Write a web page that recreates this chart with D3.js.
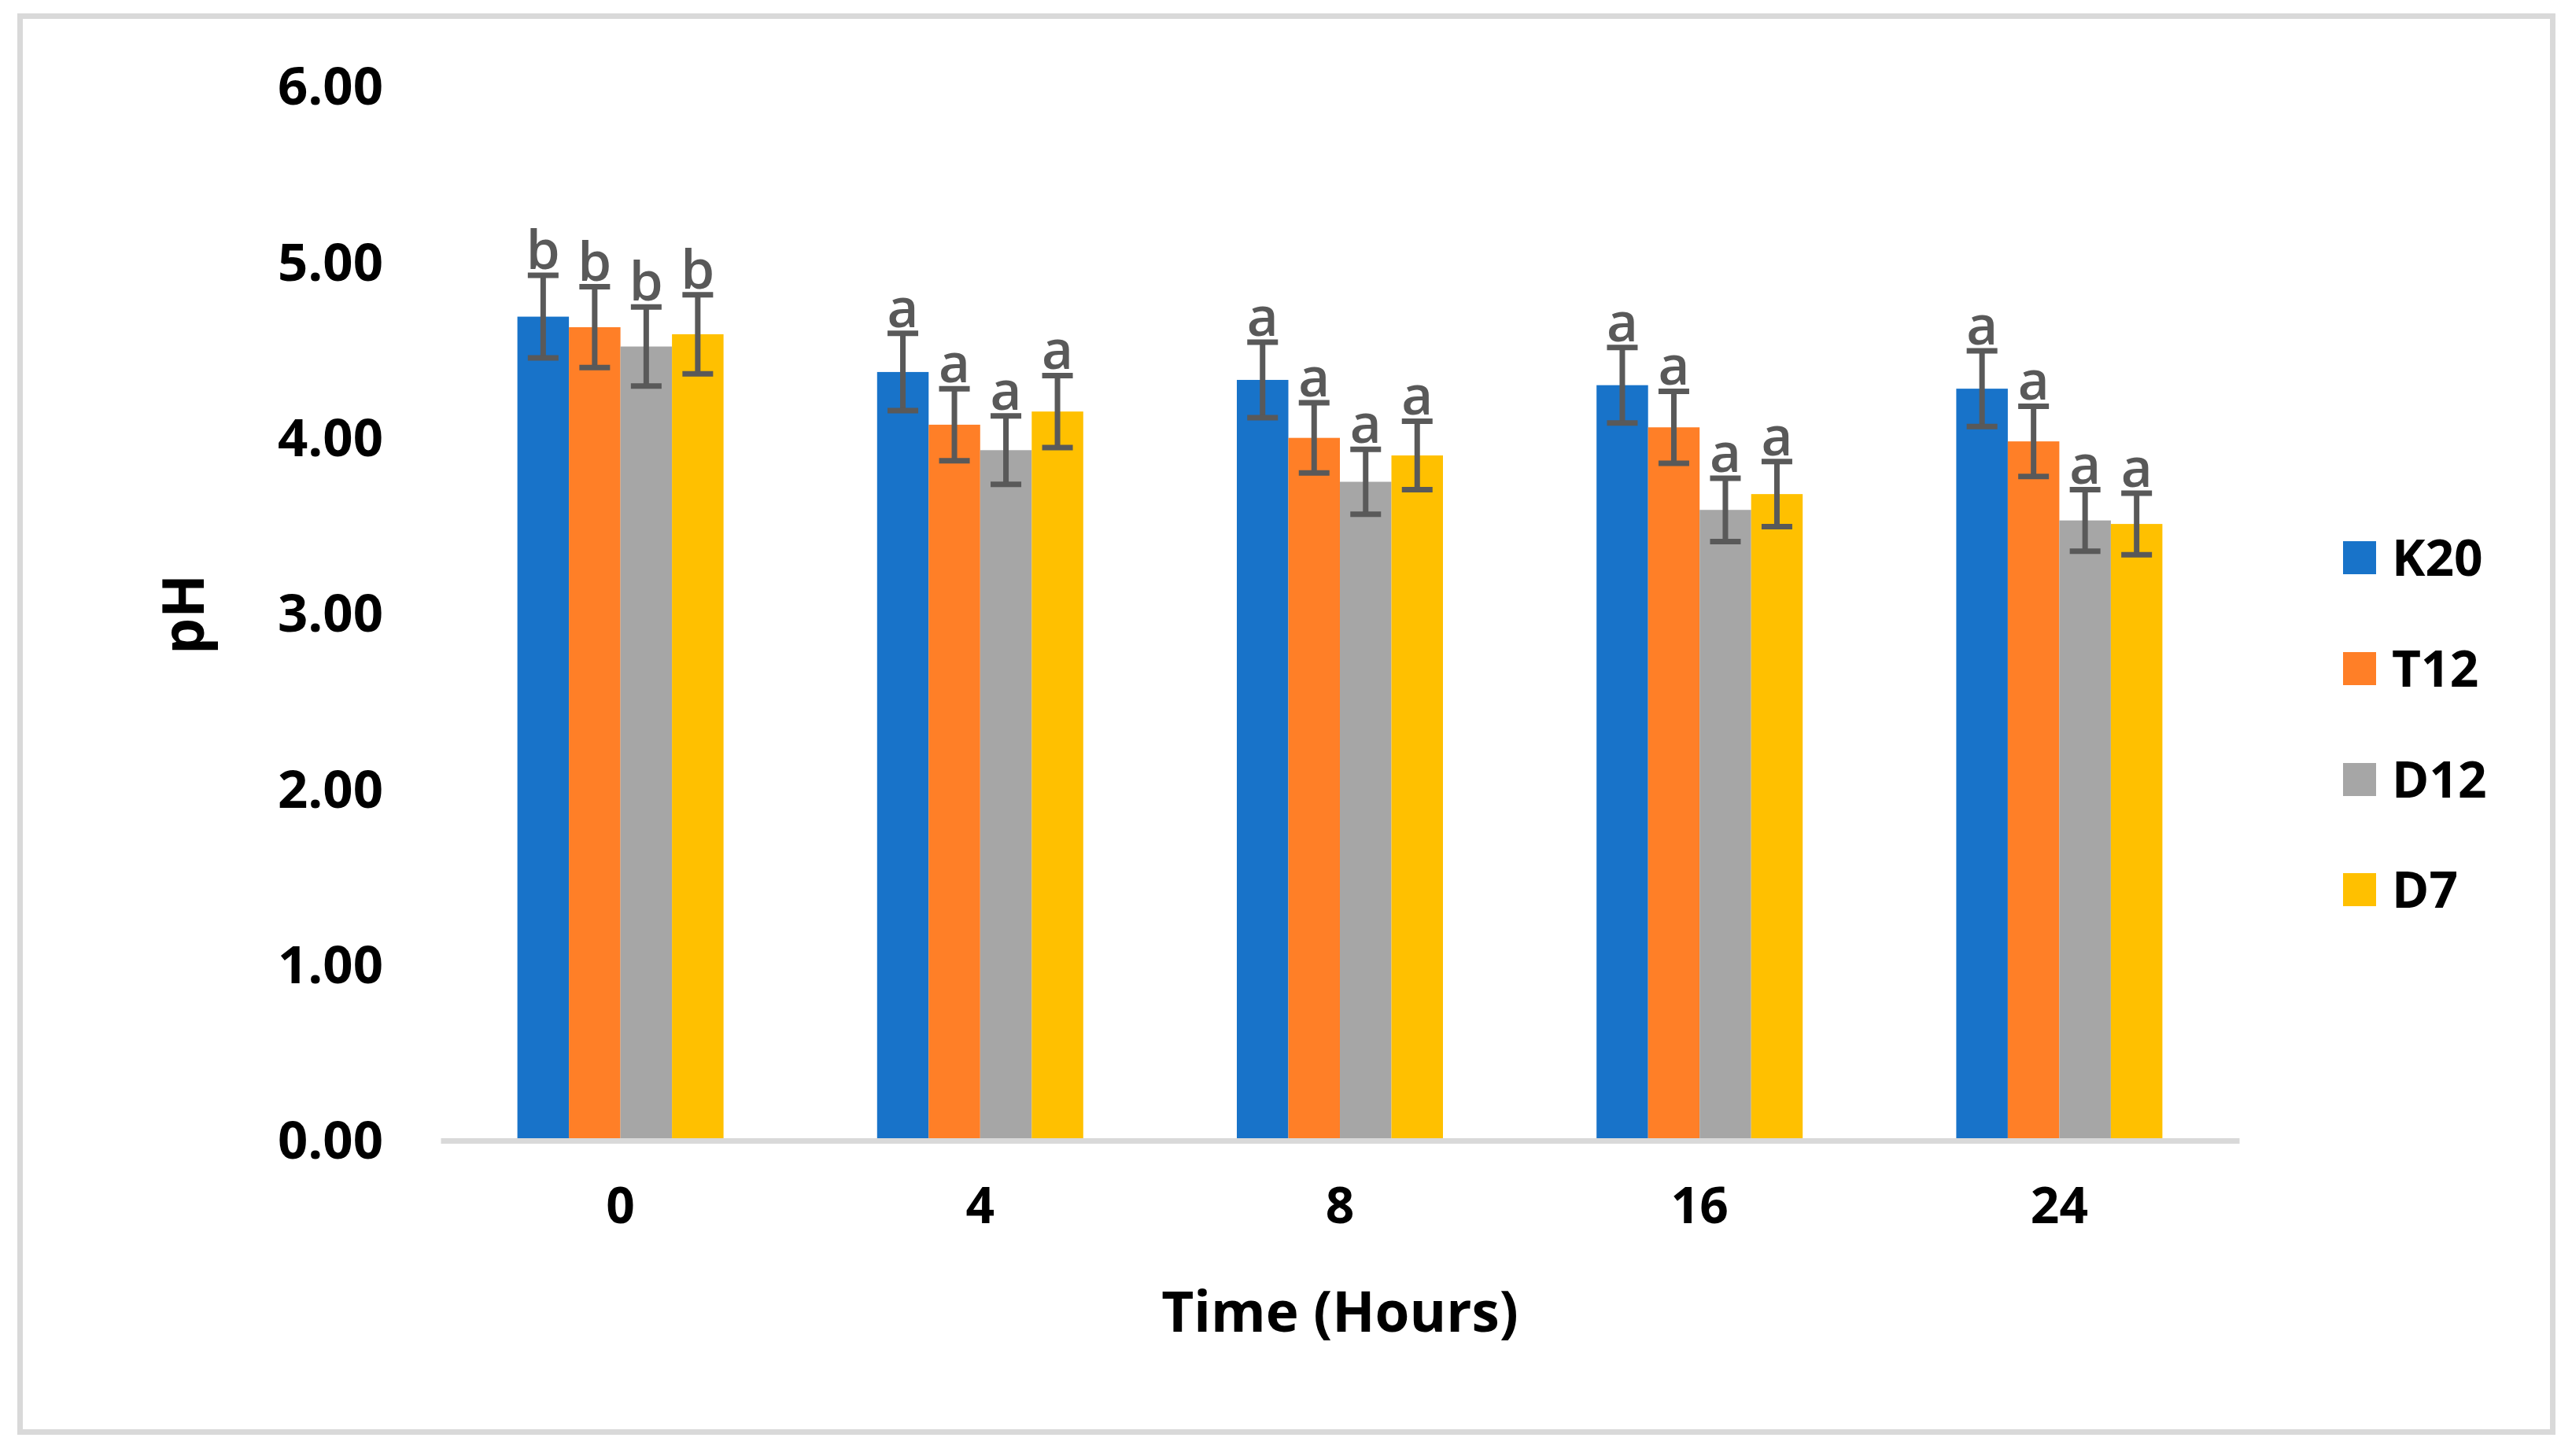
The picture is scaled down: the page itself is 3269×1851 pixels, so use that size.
<!DOCTYPE html>
<html>
<head>
<meta charset="utf-8">
<script src="https://cdn.jsdelivr.net/npm/d3@7"></script>
<style>
  body { margin: 0; background: #fff; }
  text { font-family: "Open Sans", sans-serif; }
</style>
</head>
<body>
<div id="container"></div>
<script>
const times = ["0", "4", "8", "16", "24"];
const series = ["K20", "T12", "D12", "D7"];
const colors = ["#1873c9", "#ff7f27", "#a6a6a6", "#ffc000"];

const k20 = [4.69, 4.375, 4.33, 4.30, 4.28];
const t12 = [4.63, 4.075, 4.00, 4.06, 3.98];
const d12 = [4.52, 3.93, 3.75, 3.59, 3.53];
const d7 = [4.59, 4.15, 3.90, 3.68, 3.51];

const k20Err = [0.235, 0.22, 0.215, 0.215, 0.215];
const t12Err = [0.23, 0.205, 0.20, 0.205, 0.20];
const d12Err = [0.225, 0.195, 0.185, 0.18, 0.175];
const d7Err = [0.225, 0.205, 0.195, 0.185, 0.175];

const letters = ["b", "a", "a", "a", "a"];
const yTicks = [0, 1, 2, 3, 4, 5, 6];

const values = [k20, t12, d12, d7];
const errs = [k20Err, t12Err, d12Err, d7Err];

const width = 3269;
const height = 1851;
const plot = { left: 560, right: 2846, top: 110, bottom: 1450 };
const groupWidth = 262;

const svg = d3.select("#container")
              .append("svg")
              .attr("width", width)
              .attr("height", height);

// outer frame
svg.append("rect")
   .attr("x", 25.5).attr("y", 20.5)
   .attr("width", 3244.5 - 25.5).attr("height", 1820.5 - 20.5)
   .attr("fill", "none")
   .attr("stroke", "#d9d9d9")
   .attr("stroke-width", 7);

const x0 = d3.scaleBand()
             .domain(times)
             .range([plot.left, plot.right]);
const step = x0.bandwidth();
const x1 = d3.scaleBand()
             .domain(series)
             .range([(step - groupWidth) / 2, (step + groupWidth) / 2]);
const y = d3.scaleLinear()
            .domain([0, 6])
            .range([plot.bottom, plot.top]);

// y axis labels
const yAxis = d3.axisLeft(y)
                .tickValues(yTicks)
                .tickFormat(d3.format(".2f"))
                .tickSize(0)
                .tickPadding(73);
const yg = svg.append("g")
              .attr("transform", "translate(" + plot.left + ",0)")
              .call(yAxis);
yg.select(".domain").remove();
yg.selectAll("text")
  .attr("font-family", "Open Sans")
  .attr("font-weight", "bold")
  .attr("font-size", 67)
  .attr("fill", "#000")
  .attr("dy", "0.34em");

// bars
const rows = [];
times.forEach((t, i) => {
  series.forEach((s, j) => {
    rows.push({ time: t, name: s, color: colors[j], value: values[j][i], err: errs[j][i], letter: letters[i] });
  });
});

const groups = svg.append("g");
groups.selectAll("rect")
      .data(rows)
      .enter()
      .append("rect")
      .attr("x", (d) => x0(d.time) + x1(d.name))
      .attr("y", (d) => y(d.value))
      .attr("width", x1.bandwidth())
      .attr("height", (d) => y(0) - y(d.value))
      .attr("fill", (d) => d.color);

// x axis line
const xAxis = d3.axisBottom(x0)
                .tickSize(0)
                .tickPadding(70);
const xg = svg.append("g")
              .attr("transform", "translate(0," + plot.bottom + ")")
              .call(xAxis);
xg.select(".domain")
  .attr("stroke", "#d9d9d9")
  .attr("stroke-width", 7);
xg.selectAll("text")
  .attr("font-family", "Open Sans")
  .attr("font-weight", "bold")
  .attr("font-size", 64)
  .attr("fill", "#000")
  .attr("dy", "0.55em");

// error bars
const capHalf = 19.5;
const eb = svg.append("g")
              .attr("stroke", "#595959")
              .attr("stroke-width", 7);
rows.forEach((d) => {
  const cx = x0(d.time) + x1(d.name) + x1.bandwidth() / 2;
  eb.append("line")
    .attr("x1", cx).attr("x2", cx)
    .attr("y1", y(d.value + d.err)).attr("y2", y(d.value - d.err));
  eb.append("line")
    .attr("x1", cx - capHalf).attr("x2", cx + capHalf)
    .attr("y1", y(d.value + d.err)).attr("y2", y(d.value + d.err));
  eb.append("line")
    .attr("x1", cx - capHalf).attr("x2", cx + capHalf)
    .attr("y1", y(d.value - d.err)).attr("y2", y(d.value - d.err));
});

// significance letters
svg.append("g")
   .selectAll("text")
   .data(rows)
   .enter()
   .append("text")
   .attr("x", (d) => x0(d.time) + x1(d.name) + x1.bandwidth() / 2)
   .attr("y", (d) => y(d.value + d.err) - 8)
   .attr("text-anchor", "middle")
   .attr("font-family", "Open Sans")
   .attr("font-weight", 600)
   .attr("font-size", 69)
   .attr("fill", "#595959")
   .text((d) => d.letter);

// axis titles
svg.append("text")
   .text("Time (Hours)")
   .attr("x", 1703)
   .attr("y", 1693)
   .attr("text-anchor", "middle")
   .attr("font-family", "Open Sans")
   .attr("font-weight", "bold")
   .attr("font-size", 71)
   .attr("fill", "#000");
svg.append("text")
   .text("pH")
   .attr("transform", "translate(259,781)rotate(-90)")
   .attr("text-anchor", "middle")
   .attr("font-family", "Open Sans")
   .attr("font-weight", "bold")
   .attr("font-size", 73)
   .attr("fill", "#000");

// legend
const legendY = [709, 850, 991, 1131];
const legend = svg.append("g")
                  .selectAll("g")
                  .data(series)
                  .enter()
                  .append("g")
                  .attr("transform", (d, i) => "translate(2978," + legendY[i] + ")");
legend.append("rect")
      .attr("x", 0).attr("y", -21)
      .attr("width", 42).attr("height", 42)
      .attr("fill", (d, i) => colors[i]);
legend.append("text")
      .text((d) => d)
      .attr("x", 62)
      .attr("dy", "0.36em")
      .attr("font-family", "Open Sans")
      .attr("font-weight", "bold")
      .attr("font-size", 64)
      .attr("fill", "#000");
</script>
</body>
</html>
